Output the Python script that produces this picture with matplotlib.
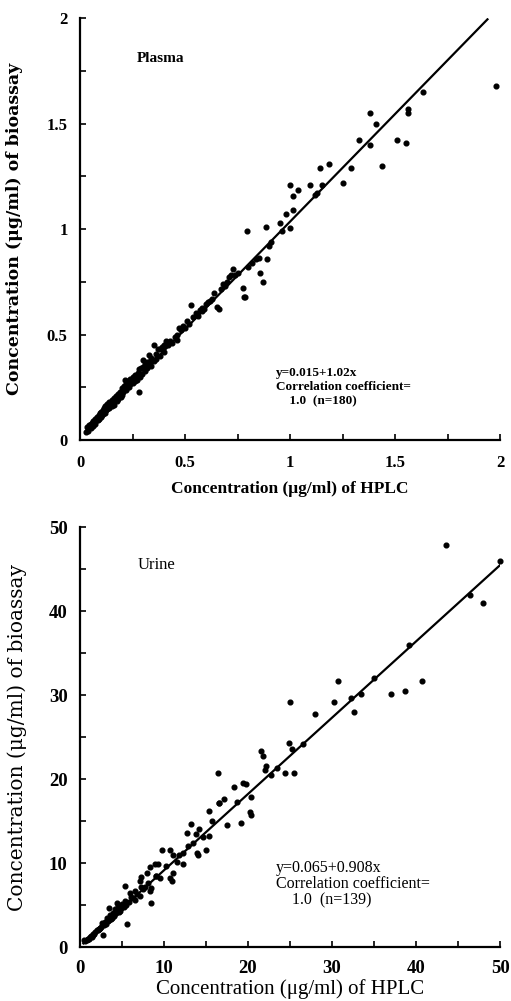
import matplotlib
matplotlib.use("Agg")
import matplotlib.pyplot as plt
from matplotlib.ticker import MultipleLocator
import numpy as np

plt.rcParams['font.family'] = ['Liberation Serif', 'DejaVu Serif']

# ---------------- Plasma data ----------------
plasma_hplc = [
    0.03, 0.035, 0.04, 0.045, 0.05, 0.05, 0.055, 0.06, 0.06, 0.065, 0.07, 0.07,
    0.075, 0.08, 0.085, 0.09, 0.09, 0.095, 0.10, 0.10, 0.105, 0.11, 0.11, 0.115,
    0.12, 0.12, 0.125, 0.13, 0.13, 0.135, 0.14, 0.14, 0.145, 0.15, 0.15, 0.155,
    0.16, 0.16, 0.165, 0.17, 0.175, 0.18, 0.18, 0.185, 0.19, 0.195, 0.20, 0.20,
    0.205, 0.21, 0.215, 0.22, 0.22, 0.225, 0.23, 0.235, 0.24, 0.24, 0.245, 0.25,
    0.25, 0.255, 0.26, 0.26, 0.265, 0.27, 0.275, 0.28, 0.28, 0.285, 0.29, 0.295,
    0.30, 0.30, 0.31, 0.31, 0.32, 0.32, 0.33, 0.33, 0.34, 0.34, 0.35, 0.35,
    0.36, 0.36, 0.37, 0.38, 0.38, 0.39, 0.40, 0.40, 0.41, 0.42, 0.43, 0.44,
    0.45, 0.46, 0.47, 0.48, 0.49, 0.50, 0.51, 0.52, 0.53, 0.54, 0.55, 0.56,
    0.57, 0.58, 0.59, 0.60, 0.61, 0.62, 0.63, 0.64, 0.65, 0.66, 0.67, 0.68,
    0.69, 0.70, 0.71, 0.72, 0.73, 0.74, 0.75,
    0.775, 0.78, 0.785, 0.795, 0.80, 0.82, 0.84, 0.853, 0.857, 0.87, 0.886, 0.89,
    0.90, 0.91, 0.952, 0.96, 0.98, 1.00, 1.00, 1.013, 1.013, 1.04, 1.095, 1.12,
    1.13, 1.143, 1.15, 1.186, 1.25, 1.29, 1.33, 1.38, 1.38, 1.41, 1.44, 1.51,
    1.55, 1.56, 1.56, 1.635, 1.98,
    0.07, 0.15, 0.23, 0.33, 0.46, 0.58,
]
plasma_bio = [
    0.04, 0.06, 0.045, 0.07, 0.055, 0.075, 0.08, 0.065, 0.09, 0.075, 0.10, 0.085,
    0.095, 0.11, 0.095, 0.12, 0.10, 0.13, 0.11, 0.135, 0.12, 0.14, 0.125, 0.15,
    0.13, 0.16, 0.14, 0.17, 0.145, 0.16, 0.18, 0.15, 0.175, 0.16, 0.19, 0.17,
    0.20, 0.165, 0.195, 0.21, 0.185, 0.22, 0.195, 0.215, 0.23, 0.205, 0.245, 0.215,
    0.23, 0.255, 0.285, 0.265, 0.235, 0.27, 0.28, 0.25, 0.29, 0.265, 0.28, 0.30,
    0.27, 0.29, 0.31, 0.28, 0.305, 0.285, 0.32, 0.23, 0.335, 0.30, 0.34, 0.315,
    0.38, 0.345, 0.36, 0.325, 0.37, 0.34, 0.405, 0.355, 0.39, 0.35, 0.45, 0.375,
    0.41, 0.385, 0.43, 0.40, 0.43, 0.44, 0.45, 0.415, 0.47, 0.45, 0.47, 0.46,
    0.49, 0.475, 0.53, 0.52, 0.54, 0.53, 0.565, 0.55, 0.64, 0.585, 0.60, 0.59,
    0.615, 0.625, 0.62, 0.645, 0.655, 0.66, 0.67, 0.695, 0.63, 0.62, 0.715, 0.74,
    0.73, 0.75, 0.775, 0.78, 0.81, 0.78, 0.79,
    0.72, 0.68, 0.68, 0.99, 0.82, 0.84, 0.86, 0.862, 0.79, 0.75, 1.01, 0.86,
    0.92, 0.94, 1.03, 0.99, 1.07, 1.005, 1.21, 1.09, 1.157, 1.186, 1.21, 1.16,
    1.17, 1.287, 1.21, 1.31, 1.22, 1.29, 1.42, 1.40, 1.55, 1.50, 1.30, 1.42,
    1.41, 1.55, 1.57, 1.65, 1.676,
    0.075, 0.175, 0.25, 0.37, 0.50, 0.61,
]

# ---------------- Urine data ----------------
urine_hplc = [
    43.6, 50.0, 46.4, 48.0, 39.2, 40.7, 38.7, 37.0, 33.4, 32.6, 32.3, 30.7,
    30.2, 28.0, 25.0, 24.9, 25.2, 21.6, 21.75, 22.1, 22.0, 22.7, 24.4, 25.5,
    23.5, 16.4, 18.3, 19.4, 19.8, 20.4, 20.2, 20.3, 19.2, 17.5, 16.5, 16.6,
    17.1, 15.4, 15.7, 15.4, 15.0, 14.2, 13.8, 13.5, 13.9, 14.0, 13.2, 12.7,
    12.2, 12.3, 11.5, 10.7, 11.1, 11.1, 10.7, 10.9, 9.7, 9.3, 9.5, 8.9,
    8.3, 8.0, 7.3, 7.1, 7.3, 8.5, 8.3, 8.4, 7.1, 6.5, 6.0, 6.1,
    6.5, 5.4, 5.4, 5.0, 5.1, 5.6, 4.4, 4.5, 4.2, 3.9, 3.5, 3.6,
    3.2, 3.0, 2.7, 2.6, 2.7, 2.2, 2.0, 1.8, 1.5, 1.4, 1.2, 1.0,
    0.8, 0.6, 0.5, 18.7, 12.8, 11.8, 9.0, 7.7, 6.8, 4.8, 4.0, 3.3,
    2.4, 1.7, 1.1, 5.8, 4.6, 3.8, 2.9, 2.3, 10.2, 14.6, 26.5, 35.0,
    0.9, 1.3, 1.6, 2.1, 2.5, 3.1, 3.4, 3.7, 4.1, 4.3, 4.7, 4.9,
    5.2, 5.5, 6.3, 7.5, 8.1, 9.1,
]
urine_bio = [
    47.9, 45.95, 41.9, 41.0, 35.95, 31.7, 30.5, 30.1, 30.1, 28.0, 29.6, 31.7,
    29.2, 27.8, 29.2, 24.3, 23.6, 23.3, 22.7, 21.5, 21.1, 20.5, 20.7, 20.7,
    21.3, 20.7, 19.1, 19.5, 19.4, 17.9, 16.1, 15.7, 14.8, 14.5, 17.2, 17.1,
    17.6, 16.2, 15.0, 13.2, 11.5, 14.0, 13.5, 12.4, 11.2, 10.9, 14.6, 13.6,
    11.2, 9.9, 10.1, 11.5, 10.9, 8.8, 8.2, 7.9, 11.5, 9.9, 8.25, 9.9,
    9.5, 8.85, 8.3, 7.9, 7.2, 7.0, 6.7, 5.3, 6.1, 6.7, 6.4, 6.0,
    5.6, 7.3, 5.5, 5.1, 4.9, 2.8, 5.2, 4.9, 4.5, 4.0, 4.6, 3.8,
    3.4, 3.0, 2.7, 2.9, 1.4, 2.2, 2.0, 1.8, 1.4, 1.2, 1.2, 0.95,
    0.8, 0.75, 0.8, 17.3, 12.0, 10.9, 8.4, 7.2, 6.3, 4.5, 3.7, 3.1,
    2.3, 1.6, 1.0, 5.4, 4.2, 3.5, 2.6, 2.1, 9.6, 13.1, 24.2, 32.0,
    0.9, 1.3, 1.5, 2.0, 2.4, 2.8, 3.2, 3.3, 3.8, 4.0, 4.3, 4.6,
    4.8, 5.0, 5.8, 6.9, 7.6, 8.4,
]

plasma_fit = (0.015, 1.02)
urine_fit = (0.065, 0.908)
plasma_line_x = [0.03, 1.94]
urine_line_x = [0.4, 50.0]

fig = plt.figure(figsize=(5.11, 10.01), dpi=100)

def style(ax, xmax, ymax, xminor, yminor, xmajor, ymajor, fs_tick, weight, xpad):
    for s in ['top', 'right']:
        ax.spines[s].set_visible(False)
    for s in ['left', 'bottom']:
        ax.spines[s].set_linewidth(1.6)
    ax.set_xlim(0, xmax)
    ax.set_ylim(0, ymax)
    ax.xaxis.set_major_locator(MultipleLocator(xmajor))
    ax.yaxis.set_major_locator(MultipleLocator(ymajor))
    ax.xaxis.set_minor_locator(MultipleLocator(xminor))
    ax.yaxis.set_minor_locator(MultipleLocator(yminor))
    ax.xaxis.set_major_formatter(plt.FuncFormatter(lambda v, p: f"{v:g}"))
    ax.yaxis.set_major_formatter(plt.FuncFormatter(lambda v, p: f"{v:g}"))
    ax.tick_params(which='both', direction='in', length=4, width=1.2)
    ax.tick_params(axis='x', which='major', labelsize=fs_tick, pad=xpad)
    ax.tick_params(axis='y', which='major', labelsize=fs_tick, pad=9)
    for lab in ax.get_xticklabels() + ax.get_yticklabels():
        lab.set_fontweight(weight)

# ---- top axes ----
ax1 = fig.add_axes([0.1566, 0.5604, 0.822, 0.4216])
ax1.plot(plasma_hplc, plasma_bio, 'o', color='black', markersize=3.4, clip_on=False)
lx = np.array(plasma_line_x)
ax1.plot(lx, plasma_fit[0] + plasma_fit[1] * lx, color='black', linewidth=1.6)
style(ax1, 2, 2, 0.25, 0.25, 0.5, 0.5, 12, 'bold', 11)
ax1.set_xlabel('Concentration (μg/ml) of HPLC', fontsize=12.5, fontweight='bold', labelpad=7)
ax1.set_ylabel('Concentration (μg/ml) of bioassay', fontsize=12.5, fontweight='bold',
               family=['DejaVu Serif'])
ax1.yaxis.set_label_coords(-0.136, 0.5)
ax1.text(0.27, 1.79, 'Plasma', fontsize=11, fontweight='bold')
ax1.text(0.935, 0.345, 'y=0.015+1.02x\nCorrelation coefficient=\n    1.0  (n=180)',
         fontsize=9.5, fontweight='bold', va='top', linespacing=1.2)

# ---- bottom axes ----
ax2 = fig.add_axes([0.1566, 0.0539, 0.822, 0.4196])
ax2.plot(urine_hplc, urine_bio, 'o', color='black', markersize=3.4, clip_on=False)
lx2 = np.array(urine_line_x)
ax2.plot(lx2, urine_fit[0] + urine_fit[1] * lx2, color='black', linewidth=1.6)
style(ax2, 50, 50, 5, 5, 10, 10, 13.5, 'bold', 9)
ax2.set_xlabel('Concentration (μg/ml) of HPLC', fontsize=15, labelpad=2)
ax2.set_ylabel('Concentration (μg/ml) of bioassay', fontsize=14.5, family=['DejaVu Serif'])
ax2.yaxis.set_label_coords(-0.126, 0.5)
ax2.text(6.8, 45.0, 'Urine', fontsize=12)
ax2.text(23.3, 10.4, 'y=0.065+0.908x\nCorrelation coefficient=\n    1.0  (n=139)',
         fontsize=11.5, va='top', linespacing=1.05)

fig.savefig('out.png', dpi=100)
